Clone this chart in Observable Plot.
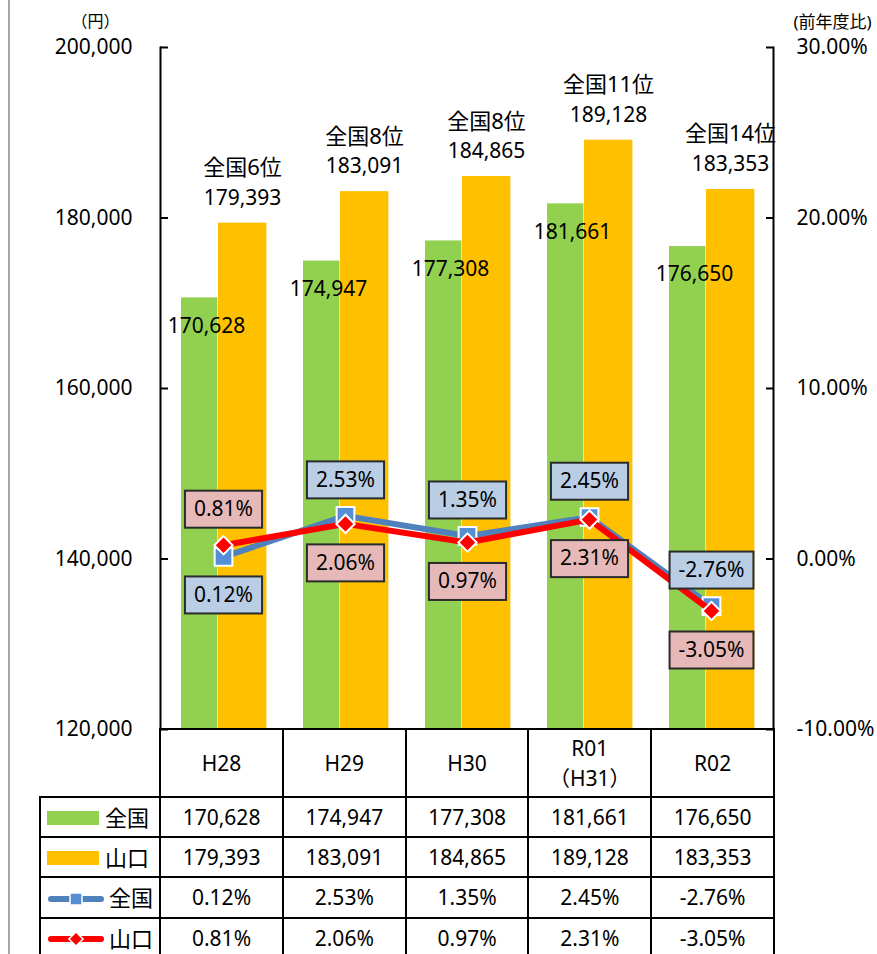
<!DOCTYPE html>
<html><head><meta charset="utf-8">
<script src="https://cdn.jsdelivr.net/npm/d3@7"></script>
<script src="https://cdn.jsdelivr.net/npm/@observablehq/plot@0.6"></script>
<style>
body{margin:0;background:#fff;font-family:"Noto Sans","Noto Sans CJK JP",sans-serif;color:#000;}
#wrap{position:relative;width:877px;height:954px;overflow:hidden;}
#edge{position:absolute;left:8px;top:0;width:2px;height:954px;background:#a6a6a6;}
#chart{position:absolute;left:0;top:0;}
table{position:absolute;left:39px;top:728px;border-collapse:collapse;table-layout:fixed;font-size:21px;width:736px;}
td{border:2px solid #000;text-align:center;padding:0;white-space:nowrap;line-height:30px;}
tr.head td{height:65.5px;}
tr.row td{height:38.4px;}
td.leg{text-align:left;padding-left:6px;font-size:22px;}
.sw{display:inline-block;width:52px;height:14px;vertical-align:middle;margin-right:6px;position:relative;top:-2px;}
td.leg svg{vertical-align:middle;margin-right:4px;position:relative;top:-2px;}
</style></head><body>
<div id="wrap"><div id="edge"></div><div id="chart"></div><table id="tbl"></table></div>
<script>
const categories = ["H28", "H29", "H30", "R01", "R02"];
const categoryLabels = ["H28", "H29", "H30", "R01\n（H31）", "R02"];
const zenkokuAmount = [170628, 174947, 177308, 181661, 176650];
const yamaguchiAmount = [179393, 183091, 184865, 189128, 183353];
const zenkokuRate = [0.12, 2.53, 1.35, 2.45, -2.76];
const yamaguchiRate = [0.81, 2.06, 0.97, 2.31, -3.05];
const ranks = ["全国6位", "全国8位", "全国8位", "全国11位", "全国14位"];
const leftTicks = [120000, 140000, 160000, 180000, 200000];
const rightTicks = [-10, 0, 10, 20, 30];
const seriesNames = ["全国", "山口"];

const GREEN = "#92D050", ORANGE = "#FFC000", BLUE_LINE = "#4F81BD", BLUE_MARK = "#558ED5", RED = "#FF0000";
const BLUE_BOX = "#B9CDE5", RED_BOX = "#E6B9B8";
const BLUE_TXT = "#010101", RED_TXT = "#020202"; // near-black, used to find the boxed labels

// percent on right axis mapped onto the left (amount) scale: -10%..30% <-> 120,000..200,000
const toY = p => 140000 + p * 2000;
const fromY = v => (v - 140000) / 2000;

const rows = categories.map((c, i) => ({
  cat: c, za: zenkokuAmount[i], ya: yamaguchiAmount[i],
  zr: zenkokuRate[i], yr: yamaguchiRate[i], rank: ranks[i]
}));
const fmtAmt = d3.format(",");
const fmtPct = p => p.toFixed(2) + "%";

const chart = Plot.plot({
  width: 877, height: 730,
  marginLeft: 160, marginRight: 104, marginTop: 47, marginBottom: 1,
  x: {type: "band", domain: categories, padding: 0, axis: null},
  y: {domain: [120000, 200000], axis: null, label: null},
  style: {fontSize: "21px", fontFamily: '"Noto Sans","Noto Sans CJK JP",sans-serif', color: "#000", overflow: "visible", background: "transparent"},
  marks: [
    Plot.barY(rows, {x: "cat", y1: 120000, y2: "za", fill: GREEN, insetLeft: 19, insetRight: 66.6}),
    Plot.barY(rows, {x: "cat", y1: 120000, y2: "ya", fill: ORANGE, insetLeft: 56, insetRight: 17.6}),
    Plot.frame({anchor: "left", stroke: "#000", strokeWidth: 2}),
    Plot.frame({anchor: "right", stroke: "#000", strokeWidth: 2}),
    Plot.tickY(leftTicks, {y: d => d, insetRight: 605, stroke: "#000", strokeWidth: 2}),
    Plot.tickY(rightTicks.map(toY), {y: d => d, insetLeft: 606, stroke: "#000", strokeWidth: 2}),
    Plot.axisY(leftTicks, {anchor: "left", tickSize: 0, tickPadding: 28, tickFormat: fmtAmt}),
    Plot.axisY(rightTicks.map(toY), {anchor: "right", tickSize: 0, tickPadding: 23, tickFormat: v => fmtPct(fromY(v))}),
    Plot.text(["（円）"], {frameAnchor: "top-left", textAnchor: "middle", lineAnchor: "middle", dx: -65, dy: -26, fontSize: 16}),
    Plot.text(["(前年度比)"], {frameAnchor: "top-right", textAnchor: "middle", lineAnchor: "middle", dx: 59, dy: -25, fontSize: 17}),
    // bar labels
    Plot.text(rows, {x: "cat", y: "za", text: d => fmtAmt(d.za), dx: -17, dy: 28}),
    Plot.text(rows, {x: "cat", y: "ya", text: d => fmtAmt(d.ya), dx: 19, dy: -25}),
    Plot.text(rows, {x: "cat", y: "ya", text: "rank", dx: 19, dy: -55, fontSize: 22}),
    // lines
    Plot.line(rows, {x: "cat", y: d => toY(d.zr), stroke: BLUE_LINE, strokeWidth: 6}),
    Plot.dot(rows, {x: "cat", y: d => toY(d.zr), symbol: "square", r: 10, fill: BLUE_MARK, stroke: "#fff", strokeWidth: 2}),
    Plot.line(rows, {x: "cat", y: d => toY(d.yr), stroke: RED, strokeWidth: 6}),
    Plot.dot(rows, {x: "cat", y: d => toY(d.yr), symbol: "square", rotate: 45, r: 7.3, fill: RED, stroke: "#fff", strokeWidth: 2}),
    // boxed rate labels: the higher series gets its label above, the lower one below
    Plot.text(rows, {filter: d => d.zr >= d.yr, x: "cat", y: d => toY(d.zr), text: d => fmtPct(d.zr), dy: -36, fill: BLUE_TXT}),
    Plot.text(rows, {filter: d => d.zr < d.yr, x: "cat", y: d => toY(d.zr), text: d => fmtPct(d.zr), dy: 38, fill: BLUE_TXT}),
    Plot.text(rows, {filter: d => d.yr > d.zr, x: "cat", y: d => toY(d.yr), text: d => fmtPct(d.yr), dy: -36, fill: RED_TXT}),
    Plot.text(rows, {filter: d => d.yr <= d.zr, x: "cat", y: d => toY(d.yr), text: d => fmtPct(d.yr), dy: 39, fill: RED_TXT})
  ]
});
document.getElementById("chart").appendChild(chart);

// draw the boxes behind the rate labels (same local coordinates/transform as each text;
// the text anchor point is the local origin)
function boxes(txtColor, fill) {
  chart.querySelectorAll(`g[fill="${txtColor}"] text`).forEach(t => {
    const b = t.getBBox();
    const r = document.createElementNS("http://www.w3.org/2000/svg", "rect");
    r.setAttribute("x", b.x - 9);
    r.setAttribute("y", -18.5);
    r.setAttribute("width", b.width + 18);
    r.setAttribute("height", 37);
    r.setAttribute("fill", fill);
    r.setAttribute("stroke", "#2b2b2b");
    r.setAttribute("stroke-width", 2);
    const tr = t.getAttribute("transform");
    if (tr) r.setAttribute("transform", tr);
    t.parentNode.insertBefore(r, t);
  });
}
boxes(BLUE_TXT, BLUE_BOX);
boxes(RED_TXT, RED_BOX);

// data table below the chart
const tbl = document.getElementById("tbl");
const cg = document.createElement("colgroup");
[120, 122.6, 122.6, 122.6, 122.6, 122.6].forEach(w => {
  const c = document.createElement("col"); c.style.width = w + "px"; cg.appendChild(c);
});
tbl.appendChild(cg);
const head = document.createElement("tr"); head.className = "head";
head.innerHTML = `<td style="border-top:none;border-left:none"></td>` +
  categoryLabels.map(l => `<td>${l.replace("\n", "<br>")}</td>`).join("");
tbl.appendChild(head);

const legendSwatches = [
  `<span class="sw" style="background:${GREEN}"></span>`,
  `<span class="sw" style="background:${ORANGE}"></span>`,
  `<svg width="58" height="20"><line x1="4" y1="10" x2="54" y2="10" stroke="${BLUE_LINE}" stroke-width="6" stroke-linecap="round"/><rect x="23" y="4" width="12" height="12" fill="${BLUE_MARK}" stroke="#fff" stroke-width="1.5"/></svg>`,
  `<svg width="58" height="20"><line x1="4" y1="10" x2="54" y2="10" stroke="${RED}" stroke-width="6" stroke-linecap="round"/><rect x="24" y="5" width="10" height="10" fill="${RED}" stroke="#fff" stroke-width="1.5" transform="rotate(45 29 10)"/></svg>`
];
const tableSeries = [
  [seriesNames[0], zenkokuAmount.map(fmtAmt)],
  [seriesNames[1], yamaguchiAmount.map(fmtAmt)],
  [seriesNames[0], zenkokuRate.map(fmtPct)],
  [seriesNames[1], yamaguchiRate.map(fmtPct)]
];
tableSeries.forEach(([name, vals], i) => {
  const tr = document.createElement("tr"); tr.className = "row";
  tr.innerHTML = `<td class="leg">${legendSwatches[i]}${name}</td>` + vals.map(v => `<td>${v}</td>`).join("");
  tbl.appendChild(tr);
});
</script>
</body></html>
